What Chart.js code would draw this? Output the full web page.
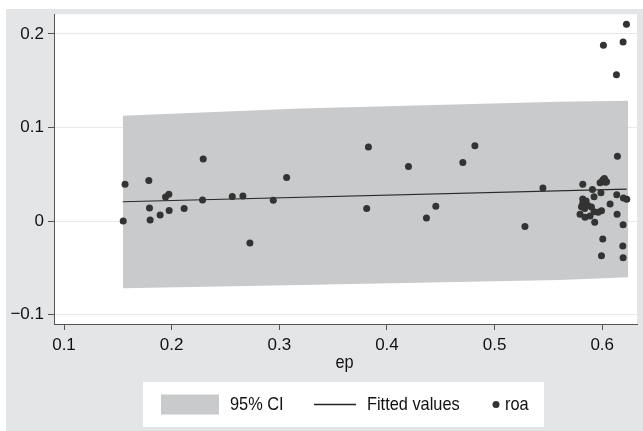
<!DOCTYPE html>
<html>
<head>
<meta charset="utf-8">
<script src="https://cdn.jsdelivr.net/npm/chart.js@4/dist/chart.umd.min.js"></script>
<style>
  html, body { margin: 0; padding: 0; background: #fff; }
</style>
</head>
<body>
<canvas id="chart" width="643" height="431"></canvas>
<script>
// --- data ---
const epVals = [
    0.1550, 0.1567, 0.1788, 0.1794, 0.1800, 0.1893, 0.1943, 0.1974, 0.1977, 0.2116,
    0.2293, 0.2287, 0.2563, 0.2662, 0.2727, 0.2944, 0.3068, 0.3812, 0.3828, 0.4200,
    0.4367, 0.4454, 0.4705, 0.4817, 0.5282, 0.5449, 0.5819, 0.5909, 0.5988, 0.6005,
    0.6020, 0.6030, 0.5980, 0.6040, 0.5924, 0.5819, 0.5819, 0.5807, 0.5837, 0.5868,
    0.5993, 0.5961, 0.5924, 0.5794, 0.5840, 0.5887, 0.5930, 0.6011, 0.6073, 0.6132,
    0.6135, 0.6138, 0.6141, 0.6191, 0.6194, 0.6194, 0.6194, 0.6197, 0.6225, 0.6228,
    0.6005, 0.5993, 0.5850, 0.5900
];
const roaVals = [
    0.0000, 0.0392, 0.0434, 0.0139, 0.0010, 0.0064, 0.0256, 0.0285, 0.0114, 0.0135,
    0.0662, 0.0224, 0.0263, 0.0267, -0.0235, 0.0221, 0.0466, 0.0135, 0.0790, 0.0584,
    0.0032, 0.0157, 0.0626, 0.0804, -0.0057, 0.0352, 0.0392, 0.0338, 0.0302, 0.0438,
    0.0455, 0.0415, 0.0410, 0.0420, 0.0260, 0.0235, 0.0189, 0.0153, 0.0135, 0.0167,
    0.0110, 0.0093, 0.0099, 0.0072, 0.0040, 0.0053, -0.0014, 0.1879, 0.0181, 0.1562,
    0.0281, 0.0072, 0.0691, -0.0267, 0.1914, -0.0040, -0.0392, 0.0246, 0.2103, 0.0232,
    -0.0192, -0.0370, 0.0215, 0.0150
];
const fitEp = [0.1546, 0.6228];
const fitVals = [0.0206, 0.0342];
const ciEp = [0.1546, 0.3200, 0.5600, 0.6240];
const ciUpper = [0.1124, 0.1203, 0.1274, 0.1285];
const ciLower = [-0.0719, -0.0683, -0.0630, -0.0601];
const xTicks = [0.1, 0.2, 0.3, 0.4, 0.5, 0.6];
const yTicks = [-0.1, 0, 0.1, 0.2];
const legendLabels = ['95% CI', 'Fitted values', 'roa'];
const xTitle = 'ep';

const FONT = '"Liberation Sans", Arial, sans-serif';
const OUTER_BG = '#e4e5e7';
const CI_COLOR = '#c9cacc';
const DOT_COLOR = '#333333';
const AXIS_COLOR = '#555555';

const toXY = (xs, ys) => xs.map((x, i) => ({ x: x, y: ys[i] }));
const fmt = v => (v < 0 ? '\u2212' + Math.abs(v) : String(v));

// outer gray panel + white plot region
const backgroundPlugin = {
    id: 'stataBackground',
    beforeDraw(chart) {
        const { ctx, chartArea: a } = chart;
        ctx.save();
        ctx.fillStyle = '#ffffff';
        ctx.fillRect(0, 0, chart.width, chart.height);
        ctx.fillStyle = OUTER_BG;
        ctx.fillRect(6, 9, chart.width - 6, chart.height - 9);
        ctx.fillStyle = '#ffffff';
        ctx.fillRect(a.left, a.top, a.right - a.left, a.bottom - a.top);
        ctx.restore();
    }
};

// narrow-looking text: tall font squeezed horizontally
function narrowText(ctx, text, x, y, align) {
    ctx.save();
    ctx.translate(x, y);
    ctx.scale(0.86, 1);
    ctx.textAlign = align;
    ctx.fillText(text, 0, 0);
    ctx.restore();
}

// axis title + boxed legend at the bottom
const legendPlugin = {
    id: 'stataLegend',
    afterDraw(chart) {
        const ctx = chart.ctx;
        const xs = chart.scales.x;
        ctx.save();
        ctx.font = `19px ${FONT}`;
        ctx.fillStyle = '#111';
        ctx.textBaseline = 'middle';
        narrowText(ctx, xTitle, (xs.left + xs.right) / 2 - 1, 363, 'center');

        const top = 382, h = 45, cy = top + h / 2;
        ctx.fillStyle = '#ffffff';
        ctx.fillRect(143, top, 401, h);

        ctx.fillStyle = CI_COLOR;
        ctx.fillRect(161, cy - 10, 58, 20);
        ctx.fillStyle = '#111';
        narrowText(ctx, legendLabels[0], 230, cy, 'left');

        ctx.strokeStyle = '#222';
        ctx.lineWidth = 1.5;
        ctx.beginPath();
        ctx.moveTo(314, cy);
        ctx.lineTo(356, cy);
        ctx.stroke();
        narrowText(ctx, legendLabels[1], 367, cy, 'left');

        ctx.fillStyle = DOT_COLOR;
        ctx.beginPath();
        ctx.arc(496, cy, 3.5, 0, Math.PI * 2);
        ctx.fill();
        ctx.fillStyle = '#111';
        narrowText(ctx, legendLabels[2], 505, cy, 'left');
        ctx.restore();
    }
};

const tickFont = { family: FONT, size: 17 };

new Chart(document.getElementById('chart').getContext('2d'), {
    type: 'scatter',
    data: {
        datasets: [
            {
                label: legendLabels[2],
                data: toXY(epVals, roaVals),
                backgroundColor: DOT_COLOR,
                borderWidth: 0,
                pointRadius: 3.5
            },
            {
                label: legendLabels[1],
                data: toXY(fitEp, fitVals),
                showLine: true,
                borderColor: '#2a2a2a',
                borderWidth: 1.2,
                pointRadius: 0
            },
            {
                label: 'ci upper',
                data: toXY(ciEp, ciUpper),
                showLine: true,
                borderWidth: 0,
                pointRadius: 0,
                backgroundColor: CI_COLOR,
                fill: 3
            },
            {
                label: 'ci lower',
                data: toXY(ciEp, ciLower),
                showLine: true,
                borderWidth: 0,
                pointRadius: 0
            }
        ]
    },
    options: {
        responsive: false,
        devicePixelRatio: 1,
        animation: false,
        events: [],
        layout: { padding: { left: 0, top: 14, right: 6, bottom: 0 } },
        plugins: {
            legend: { display: false },
            tooltip: { enabled: false }
        },
        scales: {
            x: {
                type: 'linear',
                min: 0.0907,
                max: 0.6323,
                afterBuildTicks: s => { s.ticks = xTicks.map(v => ({ value: v })); },
                afterFit: s => { s.height = 107; },
                grid: { drawOnChartArea: false, tickLength: 6, tickColor: AXIS_COLOR },
                border: { color: AXIS_COLOR, width: 1 },
                ticks: { font: tickFont, color: '#111', padding: 5, maxRotation: 0, autoSkip: false, callback: fmt }
            },
            y: {
                type: 'linear',
                min: -0.110,
                max: 0.221,
                afterBuildTicks: s => { s.ticks = yTicks.map(v => ({ value: v })); },
                afterFit: s => { s.width = 54; },
                grid: { color: '#e8e8e8', tickLength: 6, tickColor: AXIS_COLOR },
                border: { color: AXIS_COLOR, width: 1 },
                ticks: { font: tickFont, color: '#111', padding: 4, callback: fmt }
            }
        }
    },
    plugins: [backgroundPlugin, legendPlugin]
});
</script>
</body>
</html>
